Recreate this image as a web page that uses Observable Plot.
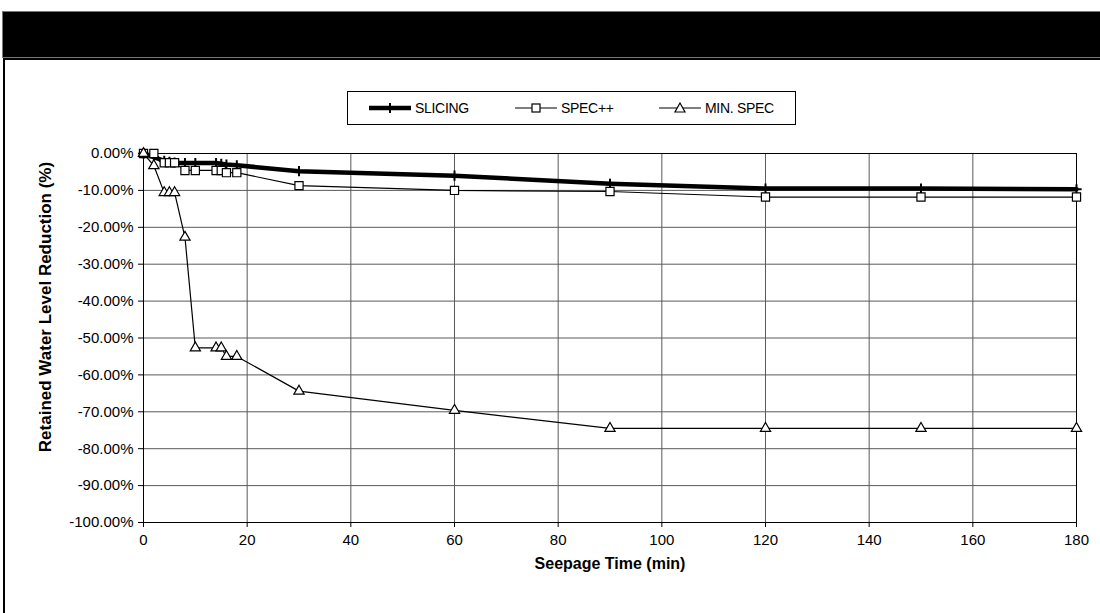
<!DOCTYPE html>
<html>
<head>
<meta charset="utf-8">
<script src="https://cdn.jsdelivr.net/npm/d3@7"></script>
<script src="https://cdn.jsdelivr.net/npm/@observablehq/plot@0.6"></script>
<style>
  html, body { margin: 0; padding: 0; background: #fff; width: 1100px; height: 613px; overflow: hidden; font-family: Arial, "Liberation Sans", sans-serif; }
  #header { position: absolute; left: 2px; top: 11px; width: 1100px; height: 45px; background: #000; border: 1px solid #777; }
  #panel { position: absolute; left: 3px; top: 58px; width: 1110px; height: 620px; border: 2px solid #000; background: #fff; }
  #chart { position: absolute; left: 0; top: 0; }
  #legend { position: absolute; left: 347px; top: 91px; width: 447px; height: 32px; border: 1px solid #000; background: #fff; }
  #legend .item { position: absolute; top: 0; height: 32px; display: flex; align-items: center; font-size: 14px; color: #000; letter-spacing: -0.3px; }
  #legend svg { display: block; margin-right: 3px; }
</style>
</head>
<body>
<div id="panel"></div>
<div id="header"></div>
<div id="chart"></div>
<div id="legend"></div>
<script>
// ---- data ----
const seriesNames = ["SLICING", "SPEC++", "MIN. SPEC"];
const time     = [0, 2, 4, 5, 6, 8, 10, 14, 15, 16, 18, 30, 60, 90, 120, 150, 180];
const slicing  = [0, -1.0, -2.0, -2.3, -2.5, -2.6, -2.6, -2.6, -2.8, -3.0, -3.2, -4.8, -6.0, -8.2, -9.5, -9.5, -9.7];
const specpp   = [0, 0, -2.5, -2.5, -2.5, -4.6, -4.6, -4.6, -4.6, -5.2, -5.2, -8.7, -10.0, -10.3, -11.8, -11.8, -11.8];
const minspec  = [0, -3.3, -10.6, -10.6, -10.6, -22.7, -52.7, -52.7, -52.7, -55.0, -55.0, -64.4, -69.6, -74.5, -74.5, -74.5, -74.5];
const xTicks = [0, 20, 40, 60, 80, 100, 120, 140, 160, 180];
const yTicks = [0, -10, -20, -30, -40, -50, -60, -70, -80, -90, -100];
const xTitle = "Seepage Time (min)";
const yTitle = "Retained Water Level Reduction (%)";

const rows = (vals) => time.map((t, i) => ({t, v: vals[i]}));
const dSlicing = rows(slicing), dSpec = rows(specpp), dMin = rows(minspec);

const font = 'Arial, "Liberation Sans", sans-serif';

const chart = Plot.plot({
  width: 1100,
  height: 613,
  marginLeft: 143,
  marginRight: 24,
  marginTop: 153,
  marginBottom: 91,
  style: {background: "transparent", fontFamily: font, color: "#000"},
  x: {domain: [0, 180], ticks: xTicks},
  y: {domain: [-100, 0], ticks: yTicks},
  marks: [
    Plot.gridX(xTicks, {stroke: "#5a5a5a", strokeOpacity: 1, strokeWidth: 1}),
    Plot.gridY(yTicks, {stroke: "#5a5a5a", strokeOpacity: 1, strokeWidth: 1}),
    Plot.frame({stroke: "#000", strokeWidth: 1}),
    Plot.axisX({ticks: xTicks, tickSize: 5, tickPadding: 7, fontSize: 15, label: null, tickFormat: d => String(d)}),
    Plot.axisY({ticks: yTicks, tickSize: 5, tickPadding: 5, fontSize: 15, label: null, tickFormat: d => d.toFixed(2) + "%"}),
    Plot.text([xTitle], {frameAnchor: "bottom", dy: 46, text: d => d, fontSize: 16, fontWeight: "bold", fill: "#000"}),
    Plot.text([yTitle], {frameAnchor: "left", textAnchor: "middle", dx: -98, dy: -31, rotate: -90, text: d => d, fontSize: 17, fontWeight: "bold", fill: "#000"}),
    // SLICING
    Plot.line(dSlicing, {x: "t", y: "v", stroke: "#000", strokeWidth: 4.5}),
    Plot.dot(dSlicing, {x: "t", y: "v", symbol: "plus", r: 3.4, stroke: "#000", strokeWidth: 2}),
    // SPEC++
    Plot.line(dSpec, {x: "t", y: "v", stroke: "#000", strokeWidth: 1.2}),
    Plot.dot(dSpec, {x: "t", y: "v", symbol: "square", r: 4.6, fill: "#fff", stroke: "#000", strokeWidth: 1.2}),
    // MIN. SPEC
    Plot.line(dMin, {x: "t", y: "v", stroke: "#000", strokeWidth: 1.2}),
    Plot.dot(dMin, {x: "t", y: "v", symbol: "triangle", r: 3.8, fill: "#fff", stroke: "#000", strokeWidth: 1.2})
  ]
});
document.getElementById("chart").appendChild(chart);

// ---- legend ----
const legend = document.getElementById("legend");
const legendLeft = [20, 166, 310];
const svgNS = "http://www.w3.org/2000/svg";
seriesNames.forEach((name, i) => {
  const item = document.createElement("div");
  item.className = "item";
  item.style.left = legendLeft[i] + "px";
  const s = document.createElementNS(svgNS, "svg");
  s.setAttribute("width", 44);
  s.setAttribute("height", 20);
  const ln = document.createElementNS(svgNS, "line");
  ln.setAttribute("x1", 1); ln.setAttribute("x2", 43);
  ln.setAttribute("y1", 10); ln.setAttribute("y2", 10);
  ln.setAttribute("stroke", "#000");
  ln.setAttribute("stroke-width", i === 0 ? 4.5 : 1.2);
  s.appendChild(ln);
  let m;
  if (i === 0) {
    m = document.createElementNS(svgNS, "line");
    m.setAttribute("x1", 22); m.setAttribute("x2", 22);
    m.setAttribute("y1", 5); m.setAttribute("y2", 15);
    m.setAttribute("stroke", "#000"); m.setAttribute("stroke-width", 2);
  } else if (i === 1) {
    m = document.createElementNS(svgNS, "rect");
    m.setAttribute("x", 18); m.setAttribute("y", 6);
    m.setAttribute("width", 8); m.setAttribute("height", 8);
    m.setAttribute("fill", "#fff"); m.setAttribute("stroke", "#000"); m.setAttribute("stroke-width", 1.2);
  } else {
    m = document.createElementNS(svgNS, "path");
    m.setAttribute("d", "M22,5 L27,14 L17,14 Z");
    m.setAttribute("fill", "#fff"); m.setAttribute("stroke", "#000"); m.setAttribute("stroke-width", 1.2);
  }
  s.appendChild(m);
  item.appendChild(s);
  const label = document.createElement("span");
  label.textContent = name;
  item.appendChild(label);
  legend.appendChild(item);
});
</script>
</body>
</html>
